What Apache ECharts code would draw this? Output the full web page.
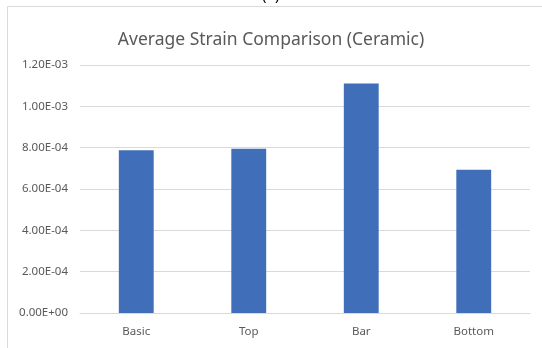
<!DOCTYPE html>
<html>
<head>
<meta charset="utf-8">
<script src="https://cdn.jsdelivr.net/npm/echarts@6/dist/echarts.min.js"></script>
<style>
  html, body { margin: 0; padding: 0; background: #fff; }
  #chart { width: 542px; height: 348px; }
</style>
</head>
<body>
<div id="chart"></div>
<script>
const categories = ["Basic", "Top", "Bar", "Bottom"];
const strainValues = [7.88e-4, 7.95e-4, 1.11e-3, 6.93e-4];
const yTicks = [0, 2e-4, 4e-4, 6e-4, 8e-4, 1e-3, 1.2e-3];

function fmtSci(v) {
  // Excel style: 0.00E+00
  if (v === 0) return "0.00E+00";
  let e = Math.floor(Math.log10(Math.abs(v)) + 1e-9);
  let m = v / Math.pow(10, e);
  let sign = e < 0 ? "-" : "+";
  let ee = String(Math.abs(e)).padStart(2, "0");
  return m.toFixed(2) + "E" + sign + ee;
}

let myChart = echarts.init(document.getElementById("chart"));
myChart.setOption({
  animation: false,
  textStyle: { fontFamily: "Noto Sans" },
  graphic: [
    {
      type: "rect",
      shape: { x: 7.5, y: 6.5, width: 540, height: 350 },
      style: { fill: "none", stroke: "#d9d9d9", lineWidth: 1 }
    },
    {
      type: "text",
      left: 262,
      top: -12,
      style: { text: "(a)", font: "15px 'Noto Sans'", fill: "#000" }
    }
  ],
  title: {
    text: "Average Strain Comparison (Ceramic)",
    left: 266,
    top: 26,
    textAlign: "center",
    textStyle: { fontSize: 17.5, fontWeight: "normal", color: "#595959", fontFamily: "Noto Sans" }
  },
  grid: { left: 80, right: 12, top: 65, bottom: 35 },
  xAxis: {
    type: "category",
    data: categories,
    axisTick: { show: false },
    axisLine: { lineStyle: { color: "#d9d9d9" } },
    axisLabel: { color: "#595959", fontSize: 11.5, margin: 13 }
  },
  yAxis: {
    type: "value",
    min: yTicks[0],
    max: yTicks[yTicks.length - 1],
    interval: yTicks[1] - yTicks[0],
    axisLine: { show: false },
    axisTick: { show: false },
    splitLine: { lineStyle: { color: "#d9d9d9" } },
    axisLabel: { color: "#595959", fontSize: 11.5, margin: 12, formatter: fmtSci }
  },
  series: [
    {
      type: "bar",
      data: strainValues,
      barWidth: "31%",
      itemStyle: { color: "#416EB8" }
    }
  ]
});
</script>
</body>
</html>
